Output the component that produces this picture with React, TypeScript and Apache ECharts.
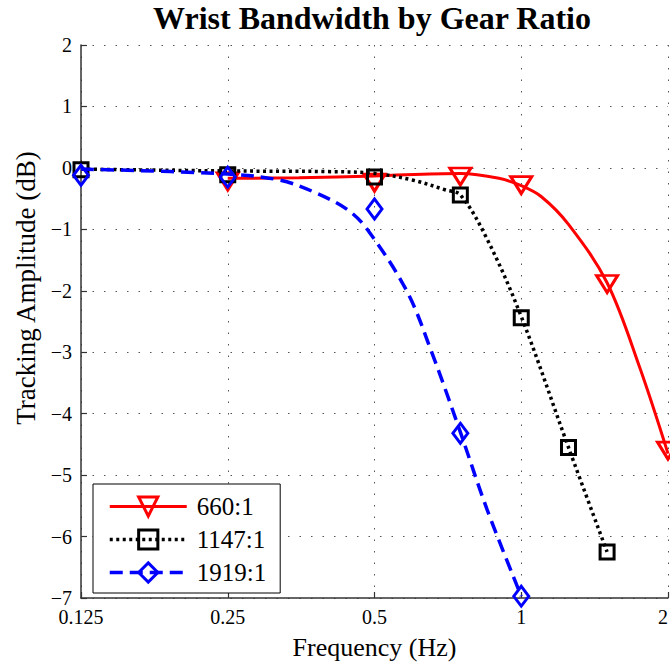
import React, { useEffect, useRef } from "react";
import * as echarts from "echarts";

const TITLE = "Wrist Bandwidth by Gear Ratio";
const X_NAME = "Frequency (Hz)";
const Y_NAME = "Tracking Amplitude (dB)";
const X_TICKS = [0.125, 0.25, 0.5, 1, 2];
const NAMES = ["660:1", "1147:1", "1919:1"];

// measured points (markers)
const RED_FREQ = [0.25, 0.5, 0.75, 1.0, 1.5, 2.0];
const RED_VAL = [-0.22, -0.24, -0.14, -0.28, -1.89, -4.6];
const BLACK_FREQ = [0.125, 0.25, 0.5, 0.75, 1.0, 1.25, 1.5];
const BLACK_VAL = [-0.03, -0.11, -0.15, -0.44, -2.44, -4.55, -6.25];
const BLUE_FREQ = [0.125, 0.25, 0.5, 0.75, 1.0];
const BLUE_VAL = [-0.12, -0.15, -0.67, -4.32, -6.97];

// fitted curves
const RED_FIT_FREQ = [0.25, 0.35, 0.5, 0.75, 0.9, 1.0, 1.1, 1.25, 1.5, 1.75, 2.0];
const RED_FIT_VAL = [-0.17, -0.16, -0.13, -0.09, -0.17, -0.29, -0.47, -0.92, -1.87, -3.25, -4.65];
const BLACK_FIT_FREQ = [0.125, 0.25, 0.4, 0.5, 0.6, 0.7, 0.75, 0.85, 1.0, 1.25, 1.5];
const BLACK_FIT_VAL = [-0.02, -0.05, -0.06, -0.09, -0.2, -0.36, -0.44, -1.15, -2.42, -4.55, -6.25];
const BLUE_FIT_FREQ = [0.125, 0.25, 0.32, 0.375, 0.44, 0.483, 0.582, 0.655, 0.75, 0.85, 1.0];
const BLUE_FIT_VAL = [-0.02, -0.1, -0.2, -0.39, -0.68, -1.0, -2.0, -3.0, -4.3, -5.55, -6.97];

const SERIF = "'Liberation Serif', 'Times New Roman', serif";
const RED = "#ff0000";
const BLACK = "#000000";
const BLUE = "#0000ff";
const CLEAR = "rgba(0,0,0,0)";

const zip = (xs: number[], ys: number[]) => xs.map((x, i) => [x, ys[i]]);

const STYLES = [
  { color: RED, dash: "solid" as any, width: 3, symbol: "triangle", rotate: 180, size: [21, 17] },
  { color: BLACK, dash: [3, 3.5], width: 3.5, symbol: "rect", rotate: 0, size: [14, 14] },
  { color: BLUE, dash: [13, 7], width: 3.5, symbol: "diamond", rotate: 0, size: [15, 20] },
];

export default function App() {
  const ref = useRef<HTMLDivElement>(null);
  useEffect(() => {
    if (!ref.current) return;
    const chart = echarts.init(ref.current, null, { renderer: "svg" });
    const fits = [
      zip(RED_FIT_FREQ, RED_FIT_VAL),
      zip(BLACK_FIT_FREQ, BLACK_FIT_VAL),
      zip(BLUE_FIT_FREQ, BLUE_FIT_VAL),
    ];
    const marks = [
      zip(RED_FREQ, RED_VAL),
      zip(BLACK_FREQ, BLACK_VAL),
      zip(BLUE_FREQ, BLUE_VAL),
    ];
    const series: any[] = [];
    NAMES.forEach((name, i) => {
      const s = STYLES[i];
      series.push({
        name,
        type: "line",
        data: fits[i],
        smooth: 0.35,
        showSymbol: false,
        symbol: s.symbol,
        symbolRotate: s.rotate,
        lineStyle: { color: s.color, width: s.width, type: s.dash, cap: "butt", opacity: 1 },
        itemStyle: { color: CLEAR, borderColor: s.color, borderWidth: 3 },
        z: 2 + i * 2,
        silent: true,
      });
      series.push({
        name,
        type: "scatter",
        data: marks[i],
        symbol: s.symbol,
        symbolRotate: s.rotate,
        symbolSize: s.size,
        clip: false,
        itemStyle: { color: CLEAR, borderColor: s.color, borderWidth: 3, opacity: 1 },
        z: 3 + i * 2,
        silent: true,
      });
    });

    const gridLine = { show: true, lineStyle: { color: "#555", width: 1, type: [1.5, 10] } };
    const axisLine = { show: true, onZero: false, lineStyle: { color: "#333", width: 1.5 } };
    const axisTick = { show: true, inside: true, length: 6, lineStyle: { color: "#333", width: 1.2 } };

    chart.setOption({
      animation: false,
      backgroundColor: "#ffffff",
      title: {
        text: TITLE,
        left: 367,
        top: -3,
        textAlign: "center",
        textStyle: { fontFamily: SERIF, fontWeight: "bold", fontSize: 32, color: "#000" },
      },
      grid: { left: 81, right: 2, top: 45, bottom: 67, containLabel: false, outerBoundsMode: "none" },
      xAxis: {
        type: "log",
        logBase: 2,
        min: 0.125,
        max: 2,
        axisLine,
        axisTick,
        minorTick: { show: false },
        splitLine: gridLine,
        axisLabel: {
          showMinLabel: true,
          showMaxLabel: true,
          alignMaxLabel: "right",
          margin: 10,
          fontFamily: SERIF,
          fontSize: 20,
          lineHeight: 18,
          color: "#000",
          formatter: (v: number) => {
            const t = X_TICKS.find((k) => Math.abs(k - v) < 1e-6);
            return t === undefined ? "" : String(t);
          },
        },
        name: X_NAME,
        nameLocation: "middle",
        nameGap: 36,
        nameTextStyle: { fontFamily: SERIF, fontSize: 26, color: "#000" },
      },
      yAxis: {
        type: "value",
        min: -7,
        max: 2,
        interval: 1,
        axisLine,
        axisTick,
        splitLine: gridLine,
        axisLabel: {
          margin: 9,
          fontFamily: SERIF,
          fontSize: 20,
          lineHeight: 15,
          color: "#000",
          formatter: (v: number) => (v < 0 ? "\u2212" + Math.abs(v) : String(v)),
        },
      },
      legend: {
        orient: "vertical",
        left: 93,
        top: 484,
        padding: [10, 14, 8, 15],
        itemWidth: 77,
        itemHeight: 24,
        itemGap: 8,
        backgroundColor: "#fff",
        borderColor: "#000",
        borderWidth: 1,
        borderRadius: 0,
        selectedMode: false,
        textStyle: { fontFamily: SERIF, fontSize: 25, color: "#000", padding: [0, 0, 0, 5] },
        data: NAMES.map((name, i) => ({
          name,
          itemStyle: { color: CLEAR, borderColor: STYLES[i].color, borderWidth: 3, opacity: 1 },
          lineStyle: { color: STYLES[i].color, width: STYLES[i].width, type: STYLES[i].dash, opacity: 1 },
        })),
      },
      graphic: [
        {
          type: "text",
          x: 26,
          y: 288,
          rotation: Math.PI / 2,
          style: {
            text: Y_NAME,
            fontFamily: SERIF,
            fontSize: 27,
            fill: "#000",
            align: "center",
            verticalAlign: "middle",
          },
        },
      ],
      series,
    });
    return () => chart.dispose();
  }, []);
  return (
    <div
      ref={ref}
      style={{ position: "absolute", left: 0, top: 0, width: 670, height: 665, background: "#fff" }}
    />
  );
}
